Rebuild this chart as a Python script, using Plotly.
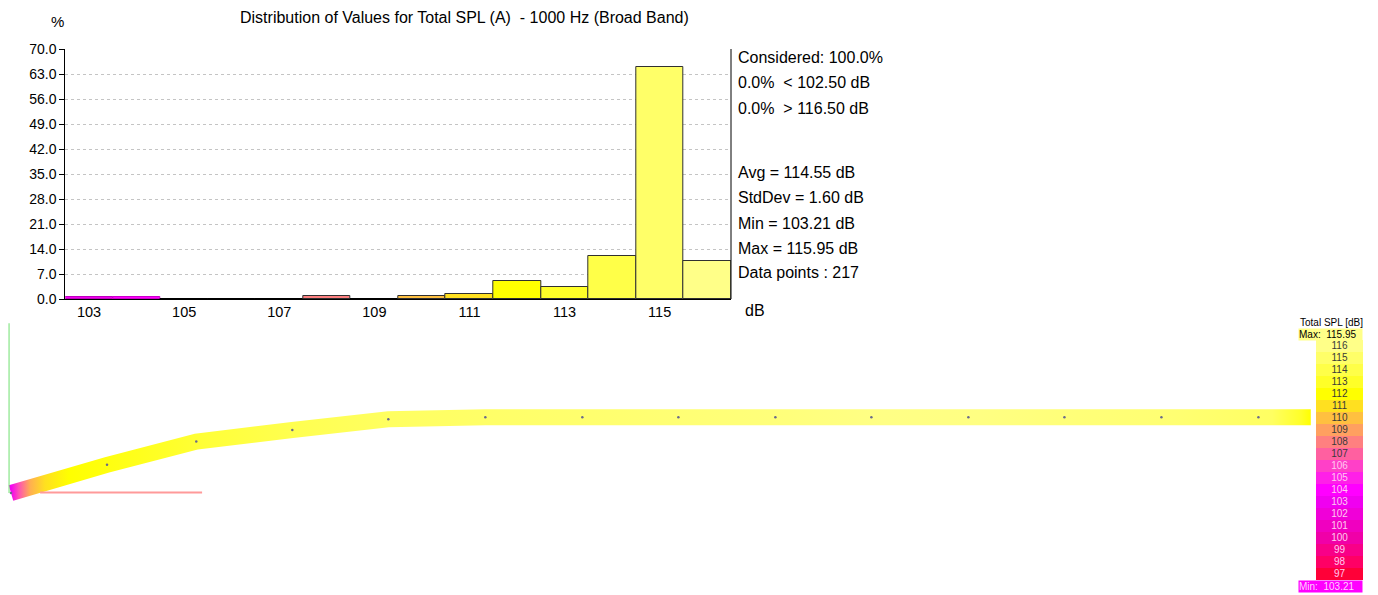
import numpy as np
import plotly.graph_objects as go

W, H = 1378, 595

# ---------------- data ----------------
bin_centers = [103, 104, 105, 106, 107, 108, 109, 110, 111, 112, 113, 114, 115, 116]
bin_percent = [0.46, 0.46, 0.0, 0.0, 0.0, 0.92, 0.0, 0.92, 1.38, 5.07, 3.23, 11.98, 64.98, 10.60]
x_tick_vals = [103, 105, 107, 109, 111, 113, 115]
y_tick_vals = [0, 7, 14, 21, 28, 35, 42, 49, 56, 63, 70]

considered_pct = 100.0
below_pct, below_limit = 0.0, 102.50
above_pct, above_limit = 0.0, 116.50
avg_db = 114.55
std_db = 1.60
min_db = 103.21
max_db = 115.95
n_points = 217

legend_levels = list(range(97, 117))
legend_colors = ['#ff0038', '#ff0065', '#f80088', '#f000a8', '#f000c0', '#f000d8',
                 '#f000f0', '#ff00ff', '#ff20e8', '#ff40c8', '#ff60a0', '#ff8080',
                 '#ffa060', '#ffc040', '#ffe020', '#ffff00', '#ffff28', '#ffff48',
                 '#ffff68', '#ffff88']

# receiver line (distance, height) and SPL along it
station_dist = [0.00, 0.99, 1.91, 2.90, 3.89, 4.89, 5.89, 6.88, 7.88, 8.87, 9.87, 10.86, 11.86, 12.86, 13.40]
station_height = [0.00, 0.29, 0.53, 0.65, 0.76, 0.78, 0.78, 0.78, 0.78, 0.78, 0.78, 0.78, 0.78, 0.78, 0.78]
band_dist = [0.00, 0.08, 0.20, 0.35, 0.60, 1.00, 2.00, 3.00, 4.00, 5.00, 6.00, 7.00,
             8.00, 9.00, 10.00, 11.00, 12.00, 13.00, 13.30, 13.40]
band_spl = [103.21, 106.5, 109.5, 111.0, 112.0, 112.4, 113.5, 114.3, 114.8, 115.0, 115.2, 115.4,
            115.6, 115.9, 115.8, 115.5, 115.3, 114.8, 113.0, 112.0]

axis_ind_x = [0.30, 1.97]      # red local axis (length along x)
axis_ind_z = [0.00, 1.75]      # green local axis (height)

FONT = "Liberation Sans, Arial, sans-serif"


def hex2rgb(h):
    return tuple(int(h[i:i + 2], 16) for i in (1, 3, 5))


pal = np.array([hex2rgb(c) for c in legend_colors], float)


def spl_color(v, k=1.0):
    rgb = [np.interp(v, legend_levels, pal[:, j]) * k for j in range(3)]
    return 'rgb(%d,%d,%d)' % tuple(int(round(c)) for c in rgb)


fig = go.Figure()

# ---------------- histogram ----------------
bar_fill = [spl_color(c) for c in bin_centers]
bar_edge = [spl_color(c, 0.8) if 0 < p < 0.6 else ('black' if p == 0 else '#303030')
            for c, p in zip(bin_centers, bin_percent)]
fig.add_trace(go.Bar(
    x=bin_centers, y=bin_percent, width=1.0,
    marker=dict(color=bar_fill, line=dict(color=bar_edge, width=1)),
    xaxis='x', yaxis='y', hoverinfo='skip', showlegend=False))

# ---------------- receiver band ----------------
P = np.column_stack([station_dist, station_height]).astype(float)
n = len(P)
normals = []
for i in range(n):
    a = P[max(i - 1, 0)]
    b = P[min(i + 1, n - 1)]
    t = (b - a) / np.linalg.norm(b - a)
    normals.append([-t[1], t[0]])
N = np.array(normals)
half = 8 / 97.0
upper = P + N * half
lower = P - N * half
poly = np.vstack([upper, lower[::-1], upper[:1]])

span = band_dist[-1] - band_dist[0]
cs = [[(d - band_dist[0]) / span, spl_color(v)] for d, v in zip(band_dist, band_spl)]
fig.add_trace(go.Scatter(
    x=poly[:, 0], y=poly[:, 1], mode='lines', fill='toself', line=dict(width=0),
    fillgradient=dict(type='horizontal', colorscale=cs, start=band_dist[0], stop=band_dist[-1]),
    xaxis='x2', yaxis='y2', hoverinfo='skip', showlegend=False))

fig.add_trace(go.Scatter(
    x=station_dist[:-1], y=station_height[:-1], mode='markers',
    marker=dict(size=2.5, color='#6a6a8a'),
    xaxis='x2', yaxis='y2', hoverinfo='skip', showlegend=False))

fig.add_trace(go.Scatter(
    x=[-0.02, -0.02], y=axis_ind_z, mode='lines', line=dict(color='#70e070', width=1),
    xaxis='x2', yaxis='y2', hoverinfo='skip', showlegend=False))
fig.add_trace(go.Scatter(
    x=axis_ind_x, y=[0.005, 0.005], mode='lines', line=dict(color='#ff9a9a', width=2),
    xaxis='x2', yaxis='y2', hoverinfo='skip', showlegend=False))

# ---------------- colour legend ----------------
nl = len(legend_levels)
dcs = []
for i, c in enumerate(legend_colors):
    dcs.append([i / nl, c])
    dcs.append([(i + 1) / nl, c])
fig.add_trace(go.Heatmap(
    z=[[v] for v in legend_levels], x=[0], y=legend_levels,
    colorscale=dcs, zmin=legend_levels[0] - 0.5, zmax=legend_levels[-1] + 0.5,
    showscale=False, xaxis='x3', yaxis='y3', hoverinfo='skip'))
fig.add_trace(go.Scatter(
    x=[0] * nl, y=legend_levels, mode='text', text=[str(v) for v in legend_levels],
    textfont=dict(family=FONT, size=10,
                  color=['#ffc8f0' if v <= 106 else '#3a3a3a' for v in legend_levels]),
    xaxis='x3', yaxis='y3', hoverinfo='skip', showlegend=False))

# ---------------- layout ----------------
fig.update_layout(
    width=W, height=H, margin=dict(l=0, r=0, t=0, b=0, pad=0, autoexpand=False),
    paper_bgcolor='white', plot_bgcolor='rgba(0,0,0,0)',
    font=dict(family=FONT, size=14, color='black'),
    bargap=0, showlegend=False,
    xaxis=dict(domain=[65.3 / W, 731 / W], range=[102.5, 116.5], tickvals=x_tick_vals,
               ticktext=[str(v) for v in x_tick_vals], ticks='', showline=True,
               linecolor='black', linewidth=1, showgrid=False, zeroline=False,
               anchor='y', tickfont=dict(size=14.5), fixedrange=True, automargin=False),
    yaxis=dict(domain=[(H - 299) / H, (H - 49) / H], range=[0, 70], tickvals=y_tick_vals,
               tickformat='.1f', ticks='outside', ticklen=5, tickcolor='black',
               showline=True, linecolor='black', linewidth=1, showgrid=True,
               gridcolor='#c4c4c4', griddash='3px,3px', gridwidth=1, zeroline=False,
               anchor='x', tickfont=dict(size=14), fixedrange=True, automargin=False),
    xaxis2=dict(domain=[0, 1], range=[-11 / 97, (W - 11) / 97], visible=False,
                anchor='y2', fixedrange=True),
    yaxis2=dict(domain=[0, 1], range=[(493 - H) / 97, 493 / 97], visible=False,
                anchor='x2', fixedrange=True),
    xaxis3=dict(domain=[1316 / W, 1363 / W], range=[-0.5, 0.5], visible=False,
                anchor='y3', fixedrange=True),
    yaxis3=dict(domain=[(H - 580) / H, (H - 340) / H], range=[96.5, 116.5], visible=False,
                anchor='x3', fixedrange=True),
)

fig.add_shape(type='line', xref='x domain', yref='y domain', x0=1, x1=1, y0=0, y1=1,
              line=dict(color='black', width=1))


def ann(text, x, y, size=16, xanchor='left', **kw):
    fig.add_annotation(text=text, x=x / W, y=1 - y / H, xref='paper', yref='paper',
                       xanchor=xanchor, yanchor='middle', showarrow=False,
                       font=dict(family=FONT, size=size, color=kw.pop('color', 'black')), **kw)


ann('Distribution of Values for Total SPL (A)  - 1000 Hz (Broad Band)', 464, 17, size=16, xanchor='center')
ann('%', 57, 22, size=15, xanchor='center')
ann('dB', 755, 310, size=16, xanchor='center')

stats_lines = [
    ('Considered: %.1f%%' % considered_pct, 58),
    ('%.1f%%  &lt; %.2f dB' % (below_pct, below_limit), 83),
    ('%.1f%%  &gt; %.2f dB' % (above_pct, above_limit), 108),
    ('Avg = %.2f dB' % avg_db, 172),
    ('StdDev = %.2f dB' % std_db, 198),
    ('Min = %.2f dB' % min_db, 223),
    ('Max = %.2f dB' % max_db, 248),
    ('Data points : %d' % n_points, 273),
]
for t, yy in stats_lines:
    ann(t, 736, yy, size=16)

ann('Total SPL [dB]', 1331, 322, size=10, xanchor='center')
ann('Max:  %.2f' % max_db, 1298, 334, size=10, bgcolor='#ffff88', width=63, height=11,
    align='left', borderpad=0)
ann('Min:  %.2f' % min_db, 1298, 586, size=10, bgcolor='#ff00ff', width=63, height=11,
    align='left', borderpad=0, color='#ffd0ff')

fig.write_html("out.html", config={'displayModeBar': False},
               post_script="document.body.style.margin='0';document.body.style.overflow='hidden';")
